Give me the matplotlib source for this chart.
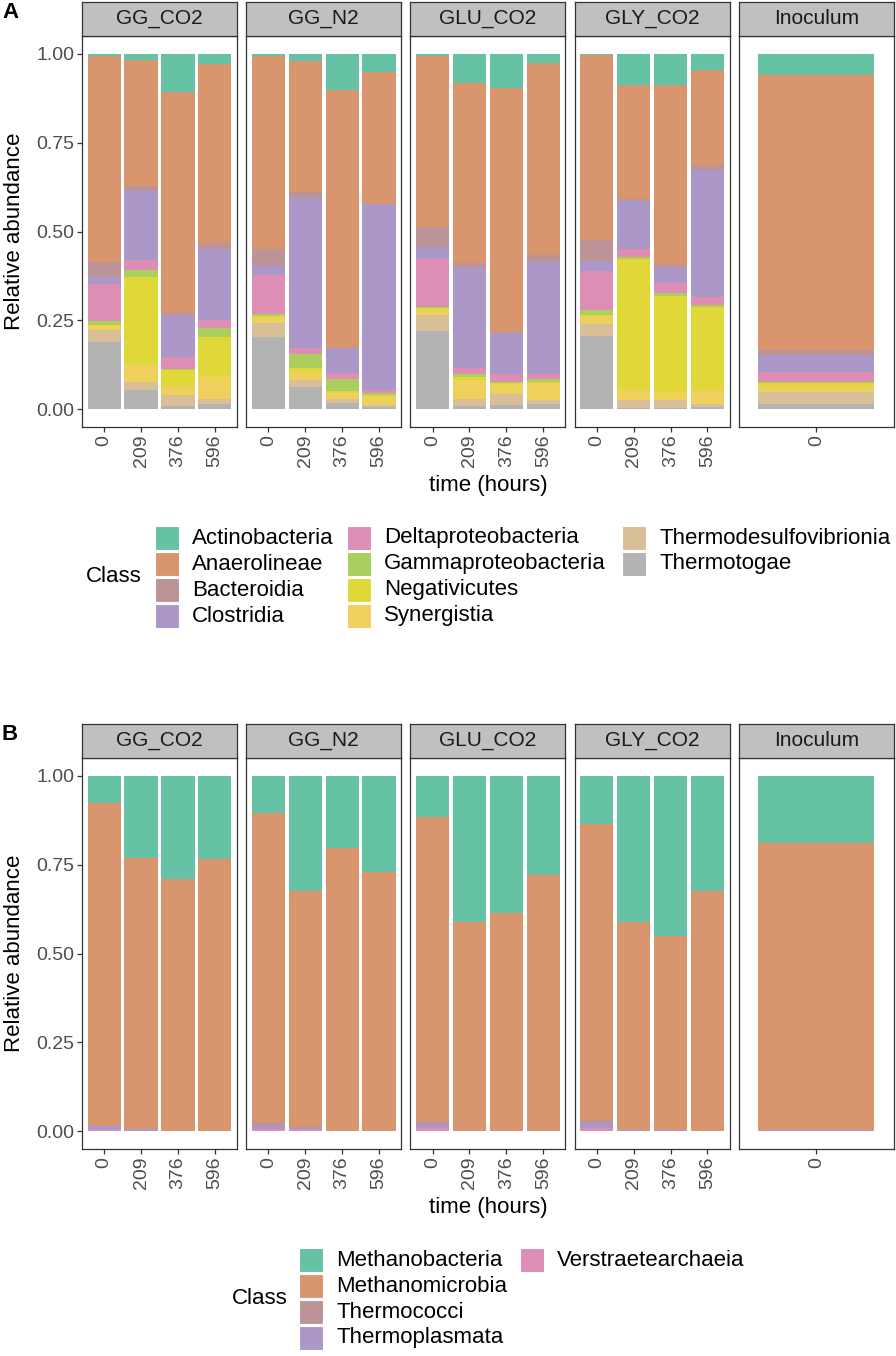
import numpy as np
import matplotlib
matplotlib.use('Agg')
import matplotlib.pyplot as plt
from matplotlib.patches import Rectangle

plt.rcParams['font.family'] = ['Liberation Sans', 'DejaVu Sans']

W, H = 896, 1356

facets = ['GG_CO2', 'GG_N2', 'GLU_CO2', 'GLY_CO2', 'Inoculum']
times = [['0', '209', '376', '596']] * 4 + [['0']]

# panel A (bacteria) - bars in order GG_CO2 x4, GG_N2 x4, GLU_CO2 x4, GLY_CO2 x4, Inoculum
classes_a = ['Actinobacteria', 'Anaerolineae', 'Bacteroidia', 'Clostridia',
             'Deltaproteobacteria', 'Gammaproteobacteria', 'Negativicutes',
             'Synergistia', 'Thermodesulfovibrionia', 'Thermotogae']
colors_a = ['#66C2A5', '#D9966E', '#BC9497', '#AB98C9', '#DE8DB4',
            '#ABCF5E', '#E0D839', '#F0D05C', '#D9BF98', '#B3B3B3']
actinobacteria = [0.007, 0.018, 0.107, 0.030, 0.007, 0.021, 0.103, 0.050, 0.005, 0.081, 0.096, 0.027, 0.004, 0.087, 0.087, 0.047, 0.061]
anaerolineae = [0.578, 0.353, 0.621, 0.503, 0.541, 0.369, 0.724, 0.372, 0.481, 0.508, 0.687, 0.539, 0.521, 0.321, 0.508, 0.265, 0.772]
bacteroidia = [0.043, 0.015, 0.006, 0.016, 0.049, 0.016, 0.002, 0.002, 0.057, 0.014, 0.002, 0.019, 0.058, 0.007, 0.006, 0.014, 0.014]
clostridia = [0.021, 0.195, 0.118, 0.200, 0.026, 0.423, 0.069, 0.521, 0.033, 0.282, 0.117, 0.317, 0.027, 0.135, 0.045, 0.357, 0.048]
deltaproteobacteria = [0.104, 0.026, 0.035, 0.022, 0.110, 0.016, 0.016, 0.008, 0.137, 0.017, 0.022, 0.013, 0.112, 0.021, 0.028, 0.024, 0.028]
gammaproteobacteria = [0.009, 0.021, 0.003, 0.027, 0.004, 0.038, 0.036, 0.007, 0.003, 0.006, 0.002, 0.007, 0.013, 0.006, 0.007, 0.005, 0.002]
negativicutes = [0.003, 0.246, 0.044, 0.111, 0.004, 0.011, 0.003, 0.005, 0.005, 0.011, 0.005, 0.003, 0.003, 0.370, 0.273, 0.234, 0.011]
synergistia = [0.011, 0.050, 0.025, 0.063, 0.017, 0.024, 0.017, 0.023, 0.014, 0.051, 0.026, 0.049, 0.022, 0.028, 0.021, 0.039, 0.016]
thermodesulfovibrionia = [0.036, 0.023, 0.031, 0.014, 0.040, 0.020, 0.013, 0.007, 0.045, 0.021, 0.032, 0.011, 0.033, 0.022, 0.022, 0.009, 0.033]
thermotogae = [0.188, 0.053, 0.010, 0.014, 0.202, 0.062, 0.017, 0.005, 0.220, 0.009, 0.011, 0.015, 0.207, 0.003, 0.003, 0.006, 0.015]
series_a = [actinobacteria, anaerolineae, bacteroidia, clostridia, deltaproteobacteria,
            gammaproteobacteria, negativicutes, synergistia, thermodesulfovibrionia, thermotogae]

# panel B (archaea)
classes_b = ['Methanobacteria', 'Methanomicrobia', 'Thermococci', 'Thermoplasmata', 'Verstraetearchaeia']
colors_b = ['#66C2A5', '#D9966E', '#BC9497', '#AB98C9', '#DE8DB4']
methanobacteria = [0.078, 0.230, 0.290, 0.235, 0.105, 0.323, 0.203, 0.272, 0.115, 0.412, 0.385, 0.278, 0.135, 0.410, 0.452, 0.325, 0.188]
methanomicrobia = [0.908, 0.763, 0.708, 0.763, 0.872, 0.666, 0.796, 0.727, 0.857, 0.586, 0.613, 0.721, 0.833, 0.587, 0.545, 0.673, 0.809]
thermococci = [0.0, 0.0, 0.0, 0.0, 0.005, 0.002, 0.0, 0.0, 0.010, 0.0, 0.0, 0.0, 0.010, 0.0, 0.0, 0.0, 0.0]
thermoplasmata = [0.010, 0.005, 0.001, 0.001, 0.012, 0.006, 0.001, 0.001, 0.010, 0.001, 0.001, 0.001, 0.012, 0.002, 0.002, 0.001, 0.002]
verstraetearchaeia = [0.004, 0.002, 0.001, 0.001, 0.006, 0.003, 0.0, 0.0, 0.008, 0.001, 0.001, 0.0, 0.010, 0.001, 0.001, 0.001, 0.001]
series_b = [methanobacteria, methanomicrobia, thermococci, thermoplasmata, verstraetearchaeia]

fig = plt.figure(figsize=(W / 100, H / 100), dpi=100)

LEFT, PW, STEP, PH, SH = 82, 155, 164.2, 391, 34
DARK = '#333333'


def fbox(x, y, w, h):
    return [x / W, 1 - (y + h) / H, w / W, h / H]


def draw_panel(top, letter, classes, colors, series, leg_class_x, leg_key_x):
    fig.text(10 / W, 1 - (top - 23) / H, letter, fontsize=16, fontweight='bold',
             ha='center', va='center')
    start = 0
    for i, f in enumerate(facets):
        n = len(times[i])
        x0 = LEFT + i * STEP
        ax = fig.add_axes(fbox(x0, top, PW, PH))
        ax.set_xlim(0.4, n + 0.6)
        ax.set_ylim(-0.05, 1.05)
        x = np.arange(1, n + 1)
        bottom = np.zeros(n)
        for cls, col, vals in reversed(list(zip(classes, colors, series))):
            v = np.array(vals[start:start + n])
            ax.bar(x, v, 0.9, bottom=bottom, color=col, linewidth=0)
            bottom += v
        start += n
        for s in ax.spines.values():
            s.set_color(DARK)
            s.set_linewidth(0.9)
        ax.set_xticks(x)
        ax.set_xticklabels(times[i], rotation=90)
        ax.set_yticks([0, 0.25, 0.5, 0.75, 1.0])
        ax.set_yticklabels(['0.00', '0.25', '0.50', '0.75', '1.00'])
        ax.tick_params(length=3.6, width=0.9, color=DARK, labelcolor='#4D4D4D',
                       labelsize=14, pad=2)
        if i > 0:
            ax.tick_params(axis='y', left=False, labelleft=False)
        sax = fig.add_axes(fbox(x0, top - SH, PW, SH))
        sax.set_facecolor('#C0C0C0')
        sax.set_xticks([])
        sax.set_yticks([])
        for s in sax.spines.values():
            s.set_color(DARK)
            s.set_linewidth(0.9)
        sax.text(0.5, 0.5, f, ha='center', va='center', fontsize=15,
                 color='#1A1A1A', transform=sax.transAxes)

    fig.text(15 / W, 1 - (top + 195) / H, 'Relative abundance', rotation=90,
             ha='center', va='center', fontsize=16)
    fig.text(488 / W, 1 - (top + 450) / H, 'time (hours)', ha='center',
             va='center', fontsize=16)

    # legend
    row0 = top + 502
    nrow = 4
    fig.text(leg_class_x / W, 1 - (row0 + 39) / H, 'Class', ha='left',
             va='center', fontsize=16)
    for k, (cls, col) in enumerate(zip(classes, colors)):
        c, r = divmod(k, nrow)
        yc = row0 + 26 * r
        kx = leg_key_x[c]
        fig.add_artist(Rectangle((kx / W, 1 - (yc + 12) / H), 24 / W, 24 / H,
                                 transform=fig.transFigure, facecolor=col,
                                 edgecolor='white', linewidth=0.8))
        fig.text((kx + 37) / W, 1 - yc / H, cls, ha='left', va='center',
                 fontsize=16)


draw_panel(36, 'A', classes_a, colors_a, series_a, 86, [155, 347, 622])
draw_panel(758, 'B', classes_b, colors_b, series_b, 232, [299, 520])

fig.savefig('out.png', dpi=100, facecolor='white')
